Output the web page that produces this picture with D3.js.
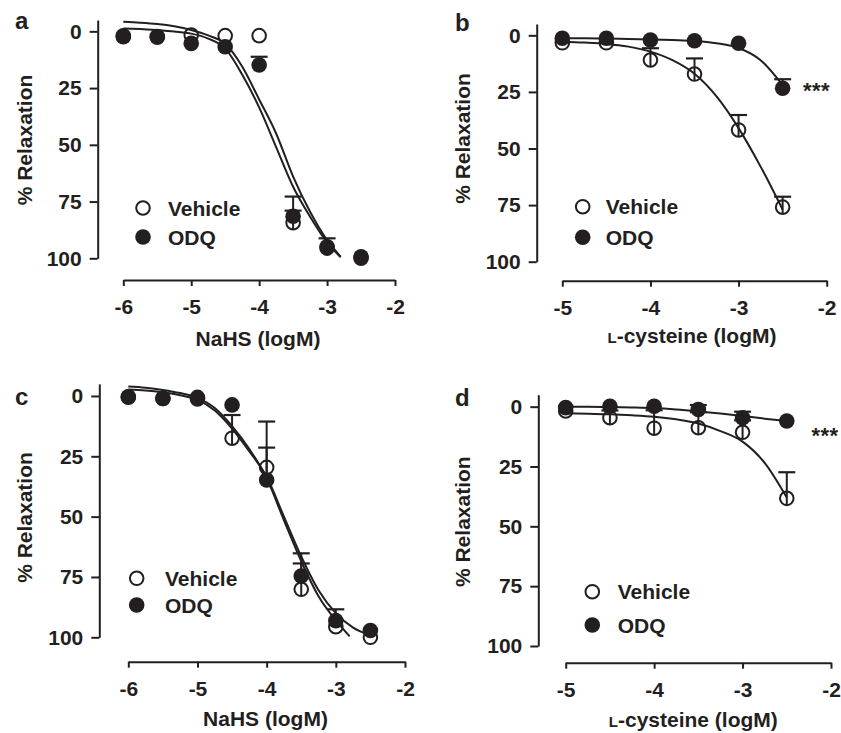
<!DOCTYPE html>
<html>
<head>
<meta charset="utf-8">
<script src="https://cdn.jsdelivr.net/npm/d3@7"></script>
<style>
  html, body { margin: 0; padding: 0; background: #fff; }
  svg { display: block; }
  text { font-family: "Liberation Sans", Arial, Helvetica, sans-serif; font-weight: bold; fill: #231f20; }
</style>
</head>
<body>
<svg id="chart" width="841" height="733"></svg>
<script>
// ---------------- DATA ----------------
const yTickValues = [0, 25, 50, 75, 100];
const xTicksNaHS = [-6, -5, -4, -3, -2];
const xTicksCys = [-5, -4, -3, -2];
const seriesNames = ["Vehicle", "ODQ"];
const yTitle = "% Relaxation";

// Panel a: NaHS
const aLogX = [-6, -5.5, -5, -4.5, -4, -3.5, -3, -2.5];
const aVehicle = [2.0, 2.3, 1.6, 1.9, 1.9, 84.3, 95.5, 100];
const aVehicleSem = [0, 0, 0, 0, 0, 11.5, 0, 0];
const aODQ = [2.4, 2.6, 5.3, 6.8, 14.8, 81.5, 94.9, 99.3];
const aODQSem = [0, 0, 0, 0, 3.6, 2.5, 3.7, 0];
const aCurveX = [-6, -5.75, -5.5, -5.25, -5, -4.75, -4.5, -4.25, -4, -3.75, -3.5, -3.25, -3, -2.8];
const aCurveVehicle = [-4.2, -3.8, -3.2, -2.2, -0.6, 1.8, 5.5, 15.5, 30, 45, 64, 79.5, 92, 99.3];
const aCurveODQ = [-1.3, -1.0, -0.6, 0.1, 1.0, 3.2, 7.5, 19, 33.5, 51, 68.5, 81.7, 93, 99.5];

// Panel b: L-cysteine
const bLogX = [-5, -4.5, -4, -3.5, -3, -2.5];
const bVehicle = [3.3, 3.3, 10.9, 17.1, 41.8, 75.9];
const bVehicleSem = [0, 0, 5.2, 6.9, 6.6, 4.6];
const bODQ = [1.3, 1.3, 2.1, 2.4, 3.5, 23.4];
const bODQSem = [0, 0, 0, 0, 0, 4.0];
const bCurveX = [-5, -4.75, -4.5, -4.25, -4, -3.75, -3.5, -3.25, -3, -2.75, -2.5];
const bCurveVehicle = [2.8, 3.2, 3.8, 5.0, 7.2, 11, 17, 27, 41, 58, 77];
const bCurveODQ = [1.3, 1.3, 1.4, 1.6, 1.8, 2.1, 2.5, 3.5, 5.6, 11, 22];

// Panel c: NaHS
const cLogX = [-6, -5.5, -5, -4.5, -4, -3.5, -3, -2.5];
const cVehicle = [0.5, 1.0, 1.2, 17.5, 29.6, 80.1, 95.6, 100];
const cVehicleSem = [0, 0, 0, 9.6, 19.0, 10.7, 0, 0];
const cODQ = [0.3, 1.0, 0.6, 3.7, 34.8, 74.6, 93.1, 97.2];
const cODQSem = [0, 0, 0, 0, 13.4, 9.4, 4.7, 0];
const cCurveXA = [-6, -5.75, -5.5, -5.25, -5, -4.75, -4.5, -4.25, -4, -3.75, -3.5, -3.25, -3, -2.8];
const cCurveVehicle = [-3.9, -3.4, -2.5, -1.2, 0.8, 5, 12.5, 22, 34, 51.5, 68.5, 83, 93, 99.6];
const cCurveXB = [-6, -5.75, -5.5, -5.25, -5, -4.75, -4.5, -4.25, -4, -3.75, -3.5, -3.25, -3, -2.75, -2.5];
const cCurveODQ = [-2.7, -2.3, -1.5, -0.3, 1.6, 6, 13.5, 23, 33.5, 50, 66.5, 80.5, 90, 96, 99.2];

// Panel d: L-cysteine
const dLogX = [-5, -4.5, -4, -3.5, -3, -2.5];
const dVehicle = [1.8, 4.6, 9.0, 8.8, 10.7, 38.3];
const dVehicleSem = [0, 3.0, 7.5, 6.5, 5.0, 10.9];
const dODQ = [0.4, -0.2, -0.2, 1.2, 4.6, 6.0];
const dODQSem = [0, 0, 0, 1.9, 2.5, 0];
const dCurveX = [-5, -4.75, -4.5, -4.25, -4, -3.75, -3.5, -3.25, -3, -2.75, -2.5];
const dCurveVehicle = [2.8, 3.0, 3.2, 3.6, 4.2, 5.3, 7.0, 10.2, 14.6, 23.5, 38];
const dCurveODQ = [0.0, 0.0, 0.1, 0.3, 0.6, 1.2, 2.0, 2.9, 3.9, 5.0, 6.0];

// ---------------- LAYOUT ----------------
const INK = "#231f20";
const FS = 21;
const R_FILL = 7.8, R_OPEN = 6.8, CAP = 8.5;

const panels = [
  { letter: "a", lx: 15, ly: 29, xDom: [-6, -2], xr: [123.3, 395], top: 20, y100: 258.3, yAxisX: 97.7, xAxisY: 280,
    xTicks: xTicksNaHS, xTitle: "NaHS", xtX: 258, xtY: 346, ytX: 31.5, ytY: 140,
    leg: { cx: 143, cy1: 208, cy2: 237, tx: 168 }, stars: null,
    logX: aLogX, veh: aVehicle, vehSem: aVehicleSem, odq: aODQ, odqSem: aODQSem,
    curves: [[aCurveX, aCurveVehicle], [aCurveX, aCurveODQ]] },
  { letter: "b", lx: 455, ly: 31, xDom: [-5, -2], xr: [562.3, 826.7], top: 24, y100: 261.7, yAxisX: 536.7, xAxisY: 280.7,
    xTicks: xTicksCys, xTitle: "cys", xtX: 692, xtY: 343, ytX: 470, ytY: 138.5,
    leg: { cx: 582.7, cy1: 206.7, cy2: 237.3, tx: 605.7 }, stars: { x: 803, y: 98 },
    logX: bLogX, veh: bVehicle, vehSem: bVehicleSem, odq: bODQ, odqSem: bODQSem,
    curves: [[bCurveX, bCurveVehicle], [bCurveX, bCurveODQ]] },
  { letter: "c", lx: 15, ly: 405, xDom: [-6, -2], xr: [128.3, 405], top: 383.9, y100: 637.3, yAxisX: 99.3, xAxisY: 661.7,
    xTicks: xTicksNaHS, xTitle: "NaHS", xtX: 265.5, xtY: 726, ytX: 31.7, ytY: 517.5,
    leg: { cx: 136.7, cy1: 578.3, cy2: 605, tx: 165 }, stars: null,
    logX: cLogX, veh: cVehicle, vehSem: cVehicleSem, odq: cODQ, odqSem: cODQSem,
    curves: [[cCurveXA, cCurveVehicle], [cCurveXB, cCurveODQ]] },
  { letter: "d", lx: 455, ly: 405.5, xDom: [-5, -2], xr: [565.7, 831], top: 394.7, y100: 646, yAxisX: 538.3, xAxisY: 662.7,
    xTicks: xTicksCys, xTitle: "cys", xtX: 693.3, xtY: 726.5, ytX: 470, ytY: 521.7,
    leg: { cx: 592.3, cy1: 591.7, cy2: 625, tx: 617.7 }, stars: { x: 811.5, y: 443 },
    logX: dLogX, veh: dVehicle, vehSem: dVehicleSem, odq: dODQ, odqSem: dODQSem,
    curves: [[dCurveX, dCurveVehicle], [dCurveX, dCurveODQ]] }
];

const svg = d3.select("#chart");

panels.forEach(p => {
  const g = svg.append("g");
  const x = d3.scaleLinear().domain(p.xDom).range(p.xr);
  const y = d3.scaleLinear().domain([-5, 100]).range([p.top, p.y100]);

  // y axis
  const yAx = g.append("g").attr("transform", `translate(${p.yAxisX},0)`)
    .call(d3.axisLeft(y).tickValues(yTickValues).tickSize(8).tickSizeOuter(0).tickPadding(8).tickFormat(d => String(d)));
  // x axis
  const xAx = g.append("g").attr("transform", `translate(0,${p.xAxisY})`)
    .call(d3.axisBottom(x).tickValues(p.xTicks).tickSize(6).tickSizeOuter(0).tickPadding(13).tickFormat(d => String(d)));
  [yAx, xAx].forEach(ax => {
    ax.select(".domain").attr("stroke", INK).attr("stroke-width", 2);
    ax.selectAll(".tick line").attr("stroke", INK).attr("stroke-width", 2);
    ax.selectAll(".tick text").attr("fill", INK).style("font-size", FS + "px")
      .style("font-weight", "bold").style("font-family", '"Liberation Sans", Arial, sans-serif');
  });

  // panel letter
  g.append("text").attr("x", p.lx).attr("y", p.ly).style("font-size", "24px").text(p.letter);

  // y title
  g.append("text").attr("transform", `translate(${p.ytX},${p.ytY}) rotate(-90)`)
    .attr("text-anchor", "middle").style("font-size", FS + "px").text(yTitle);

  // x title
  const xt = g.append("text").attr("x", p.xtX).attr("y", p.xtY).attr("text-anchor", "middle").style("font-size", FS + "px");
  if (p.xTitle === "NaHS") {
    xt.text("NaHS (logM)");
  } else {
    xt.append("tspan").style("font-size", "15px").text("L");
    xt.append("tspan").text("-cysteine (logM)");
  }

  // curves
  const line = d3.line().x(d => x(d[0])).y(d => y(d[1])).curve(d3.curveMonotoneX);
  p.curves.forEach(([cx, cy]) => {
    g.append("path").datum(cx.map((v, i) => [v, cy[i]]))
      .attr("d", line).attr("fill", "none").attr("stroke", INK).attr("stroke-width", 2);
  });

  // series: vehicle (open) then ODQ (filled)
  const drawSeries = (vals, sems, open) => {
    const pts = p.logX.map((lx, i) => ({ lx, v: vals[i], s: sems[i] }));
    const r = open ? R_OPEN : R_FILL;
    const eb = g.append("g");
    pts.filter(d => d.s > 0).forEach(d => {
      const cxp = x(d.lx), cyp = y(d.v), capY = y(d.v - d.s);
      eb.append("line").attr("x1", cxp).attr("x2", cxp).attr("y1", open ? cyp + r : cyp).attr("y2", capY)
        .attr("stroke", INK).attr("stroke-width", 2);
      eb.append("line").attr("x1", cxp - CAP).attr("x2", cxp + CAP).attr("y1", capY).attr("y2", capY)
        .attr("stroke", INK).attr("stroke-width", 2.2);
    });
    g.append("g").selectAll("circle").data(pts).join("circle")
      .attr("cx", d => x(d.lx)).attr("cy", d => y(d.v)).attr("r", r)
      .attr("fill", open ? "none" : INK).attr("stroke", open ? INK : "none").attr("stroke-width", 2);
  };
  drawSeries(p.veh, p.vehSem, true);
  drawSeries(p.odq, p.odqSem, false);

  // legend
  const L = p.leg;
  g.append("circle").attr("cx", L.cx).attr("cy", L.cy1).attr("r", R_OPEN).attr("fill", "none").attr("stroke", INK).attr("stroke-width", 2);
  g.append("circle").attr("cx", L.cx).attr("cy", L.cy2).attr("r", R_FILL).attr("fill", INK);
  g.append("text").attr("x", L.tx).attr("y", L.cy1 + 7.5).style("font-size", FS + "px").text(seriesNames[0]);
  g.append("text").attr("x", L.tx).attr("y", L.cy2 + 7.5).style("font-size", FS + "px").text(seriesNames[1]);

  // significance stars
  if (p.stars) {
    g.append("text").attr("x", p.stars.x).attr("y", p.stars.y).style("font-size", "22px")
      .attr("letter-spacing", "0.5").text("***");
  }
});
</script>
</body>
</html>
